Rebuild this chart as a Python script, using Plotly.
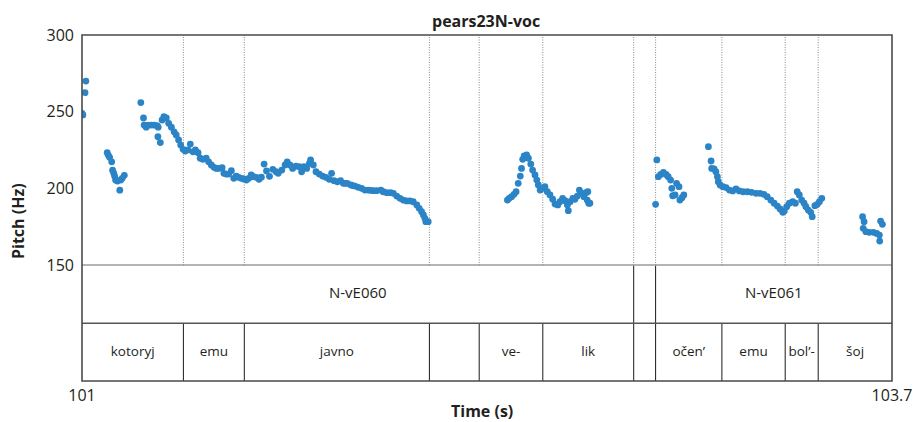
import plotly.graph_objects as go

# ---------------- pitch data (time in s, pitch in Hz) ----------------
t_seg1 = [101.000, 101.003, 101.010, 101.013]
f_seg1 = [249, 248, 262.5, 270]

t_seg2 = [101.084, 101.088, 101.092, 101.099, 101.102, 101.106, 101.109,
          101.112, 101.118, 101.126, 101.129, 101.134, 101.141]
f_seg2 = [223.4, 221.7, 220.4, 217.5, 212, 210, 208, 205.6, 205, 199,
          205.6, 206.7, 208.7]

t_seg3 = [101.196, 101.205, 101.207, 101.214, 101.220, 101.230, 101.240,
          101.250, 101.253, 101.254, 101.261, 101.267, 101.273, 101.281,
          101.289, 101.298, 101.307, 101.314, 101.322, 101.329, 101.337,
          101.344, 101.353, 101.361, 101.370, 101.378, 101.387, 101.394,
          101.403, 101.414, 101.422, 101.431, 101.440, 101.448, 101.456,
          101.467, 101.473, 101.481, 101.489, 101.498, 101.506, 101.514,
          101.522, 101.531, 101.539, 101.548, 101.556, 101.564, 101.572,
          101.581, 101.590, 101.598, 101.607, 101.615, 101.625, 101.636,
          101.647, 101.654, 101.666, 101.677, 101.684, 101.693, 101.702,
          101.713, 101.724, 101.732, 101.740, 101.749, 101.758, 101.762,
          101.771, 101.780, 101.791, 101.802, 101.813, 101.824, 101.832,
          101.840, 101.851, 101.862, 101.871, 101.878, 101.884, 101.896,
          101.903, 101.910, 101.921, 101.932, 101.943, 101.954, 101.962,
          101.971, 101.982, 101.996, 102.004, 102.016, 102.029, 102.038,
          102.049, 102.060, 102.071, 102.082, 102.093, 102.104, 102.116,
          102.124, 102.132, 102.138, 102.143, 102.146, 102.154]
f_seg3 = [256, 246, 241.4, 240, 241.4, 241.4, 241.4,
          241, 233.8, 240, 230, 244.7, 246.8, 246,
          242.5, 240, 237, 235, 231.7, 228.4, 225.6,
          224.5, 225.2, 229, 224, 225.2, 223.4, 219.8,
          219.1, 219.8, 217.5, 215.4, 213.9, 213.2, 213.2,
          213.6, 210, 209.5, 209.5, 211.7, 206.7, 208.2,
          207.4, 206.7, 206.3, 205.6, 206.7, 208.9, 207.8,
          207.4, 206.1, 207.5, 216, 211.5, 208, 212.6,
          211, 210, 212.1, 215.4, 217.5, 215.4, 213.2,
          214.7, 214.3, 211, 214.3, 213.2, 216.5, 218.7,
          215.4, 211, 209.5, 208.2, 207.4, 206.1, 210,
          205.2, 204.5, 205.2, 203.5, 203.5, 203.5, 202.4,
          202, 201.7, 200.9, 200.2, 199.1, 199.1, 198.9,
          198.7, 198.7, 199.1, 198, 197.4, 197.4, 197,
          195.2, 193.7, 192.6, 192, 192, 191.5, 189.4,
          187.2, 185, 182.9, 180.7, 178.5, 178.5]

t_seg4 = [102.418, 102.424, 102.432, 102.440, 102.447, 102.454, 102.461,
          102.465, 102.469, 102.474, 102.482, 102.488, 102.496, 102.502,
          102.510, 102.516, 102.521, 102.527, 102.536, 102.543, 102.551,
          102.560, 102.569, 102.577, 102.586, 102.593, 102.602, 102.610,
          102.618, 102.621, 102.627, 102.636, 102.643, 102.651, 102.658,
          102.666, 102.673, 102.680, 102.684, 102.686, 102.689, 102.693]
f_seg4 = [192.6, 193.7, 194.8, 196.3, 198, 203.5, 208.2,
          213.2, 219.1, 221.3, 221.9, 219.8, 216, 212.1,
          208.9, 205.6, 202.4, 199.1, 200.2, 201.3, 198,
          195.9, 193.1, 190, 189.4, 191.5, 193.7, 192.2,
          189.4, 185.7, 191.5, 193.7, 193.1, 195.2, 199.1,
          197, 194.8, 197.4, 192.6, 198, 190.5, 190.5]

t_seg5 = [102.912, 102.916, 102.921, 102.929, 102.938, 102.947, 102.954,
          102.962, 102.966, 102.969, 102.977, 102.982, 102.990, 102.993,
          103.000, 103.006]
f_seg5 = [189.8, 218.7, 207.8, 209.3, 210.6, 209.3, 207.8,
          205.6, 200.2, 195.4, 195.9, 203.5, 201.3, 192.6,
          194.1, 195.9]

t_seg6 = [103.088, 103.097, 103.099, 103.107, 103.113, 103.118, 103.121,
          103.127, 103.136, 103.147, 103.158, 103.169, 103.180, 103.191,
          103.204, 103.218, 103.232, 103.247, 103.260, 103.273, 103.284,
          103.296, 103.307, 103.318, 103.327, 103.336, 103.341, 103.349,
          103.358, 103.369, 103.378, 103.384, 103.391, 103.399, 103.407,
          103.413, 103.421, 103.429, 103.434, 103.443, 103.451, 103.458,
          103.466]
f_seg6 = [227.3, 218, 213.2, 212.8, 211, 207.8, 204.5,
          202.4, 201.3, 200.7, 199.1, 198.5, 199.8, 198.5,
          198, 198, 197.6, 197, 197, 196.3, 194.8,
          192.6, 190.5, 188.7, 186.8, 184.6, 185.5, 188.3,
          190.5, 191.5, 190.5, 198, 195.9, 192.6, 190.5,
          188.3, 186.1, 184.6, 181.8, 188.9, 189.8, 191.5,
          193.7]

t_seg7 = [103.602, 103.604, 103.607, 103.613, 103.624, 103.638, 103.649,
          103.658, 103.659, 103.662, 103.668]
f_seg7 = [181.8, 174.2, 178.5, 172, 171.6, 171.6, 170.9,
          169.8, 165.9, 178.9, 176.8]

# ---------------- annotation tiers ----------------
phrase_bounds = [101.0, 102.839, 102.912, 103.7]
phrase_labels = ["N-vE060", "", "N-vE061"]

word_bounds = [101.0, 101.338, 101.541, 102.158, 102.324, 102.536,
               102.839, 102.912, 103.133, 103.344, 103.454, 103.7]
word_labels = ["kotoryj", "emu", "javno", "", "ve-", "lik", "",
               "očen’", "emu", "bol’-", "šoj"]

x_range = [101.0, 103.7]
pitch_range = [150, 300]
pitch_ticks = [150, 200, 250, 300]

# ---------------- styling ----------------
FONT = "Open Sans"
TXT = "#231f20"
DOT = "#2b84c6"

W, H = 915, 422
ML, MR, MT, MB = 82, 23, 35, 41
plot_h = H - MT - MB
pitch_px = 230.5
split = 1 - pitch_px / plot_h

t_all = t_seg1 + t_seg2 + t_seg3 + t_seg4 + t_seg5 + t_seg6 + t_seg7
f_all = f_seg1 + f_seg2 + f_seg3 + f_seg4 + f_seg5 + f_seg6 + f_seg7

fig = go.Figure()
fig.add_trace(go.Scatter(
    x=t_all, y=f_all, mode="markers", xaxis="x", yaxis="y",
    marker=dict(size=6.8, color=DOT, line=dict(width=0)),
    hoverinfo="skip", showlegend=False))

# tier labels
ph_mid = [(a + b) / 2 for a, b in zip(phrase_bounds[:-1], phrase_bounds[1:])]
wd_mid = [(a + b) / 2 for a, b in zip(word_bounds[:-1], word_bounds[1:])]
fig.add_trace(go.Scatter(
    x=ph_mid, y=[1.5] * len(ph_mid), text=phrase_labels, mode="text",
    xaxis="x", yaxis="y2", textfont=dict(family=FONT, size=15, color=TXT),
    hoverinfo="skip", showlegend=False))
fig.add_trace(go.Scatter(
    x=wd_mid, y=[0.5] * len(wd_mid), text=word_labels, mode="text",
    xaxis="x", yaxis="y2", textfont=dict(family=FONT, size=13.5, color=TXT),
    hoverinfo="skip", showlegend=False))

shapes = []
# dotted word boundaries in pitch panel
for b in word_bounds[1:-1]:
    shapes.append(dict(type="line", xref="x", yref="y", x0=b, x1=b,
                       y0=pitch_range[0], y1=pitch_range[1],
                       line=dict(color="#8c8c8c", width=1, dash="1px,1.5px"),
                       layer="below"))
# tier boundaries
for b in phrase_bounds[1:-1]:
    shapes.append(dict(type="line", xref="x", yref="y2", x0=b, x1=b, y0=1, y1=2,
                       line=dict(color="#1a1a1a", width=1)))
for b in word_bounds[1:-1]:
    shapes.append(dict(type="line", xref="x", yref="y2", x0=b, x1=b, y0=0, y1=1,
                       line=dict(color="#1a1a1a", width=1)))
# tier separator
shapes.append(dict(type="line", xref="paper", yref="y2", x0=0, x1=1, y0=1, y1=1,
                   line=dict(color="#555555", width=1.3)))
# pitch panel bottom
shapes.append(dict(type="line", xref="paper", yref="y", x0=0, x1=1,
                   y0=pitch_range[0], y1=pitch_range[0],
                   line=dict(color="#6b6b6b", width=2)))
# frame
shapes.append(dict(type="rect", xref="paper", yref="paper", x0=0, x1=1, y0=0, y1=1,
                   line=dict(color="#4a4a4a", width=1.6)))

def px_to_paper_y(py):
    return (H - MB - py) / plot_h

def px_to_paper_x(px):
    return (px - ML) / (W - ML - MR)

annotations = [
    dict(text="<b>pears23N-voc</b>", xref="paper", yref="paper",
         x=px_to_paper_x(485.5), y=px_to_paper_y(21), showarrow=False,
         xanchor="center", yanchor="middle",
         font=dict(family=FONT, size=16, color=TXT)),
    dict(text="<b>Pitch (Hz)</b>", xref="paper", yref="paper",
         x=px_to_paper_x(18), y=px_to_paper_y(221), showarrow=False,
         textangle=-90, xanchor="center", yanchor="middle",
         font=dict(family=FONT, size=16, color=TXT)),
    dict(text="<b>Time (s)</b>", xref="paper", yref="paper",
         x=px_to_paper_x(482), y=px_to_paper_y(411), showarrow=False,
         xanchor="center", yanchor="middle",
         font=dict(family=FONT, size=16, color=TXT)),
]

fig.update_layout(
    width=W, height=H,
    margin=dict(l=ML, r=MR, t=MT, b=MB, pad=0, autoexpand=False),
    paper_bgcolor="white", plot_bgcolor="white",
    font=dict(family=FONT, color=TXT),
    xaxis=dict(range=x_range, anchor="y2", showgrid=False, zeroline=False,
               showline=False, ticks="", tickvals=x_range, automargin=False,
               ticklabelstandoff=3,
               ticktext=["101", "103.7"], tickfont=dict(size=16, color=TXT)),
    yaxis=dict(domain=[split, 1], range=pitch_range, showgrid=False,
               zeroline=False, showline=False, ticks="", tickvals=pitch_ticks,
               automargin=False, ticklabelstandoff=7,
               tickfont=dict(size=16, color=TXT), anchor="x"),
    yaxis2=dict(domain=[0, split], range=[0, 2], visible=False, anchor="x"),
    shapes=shapes, annotations=annotations, showlegend=False,
)

fig.write_html("out.html")
